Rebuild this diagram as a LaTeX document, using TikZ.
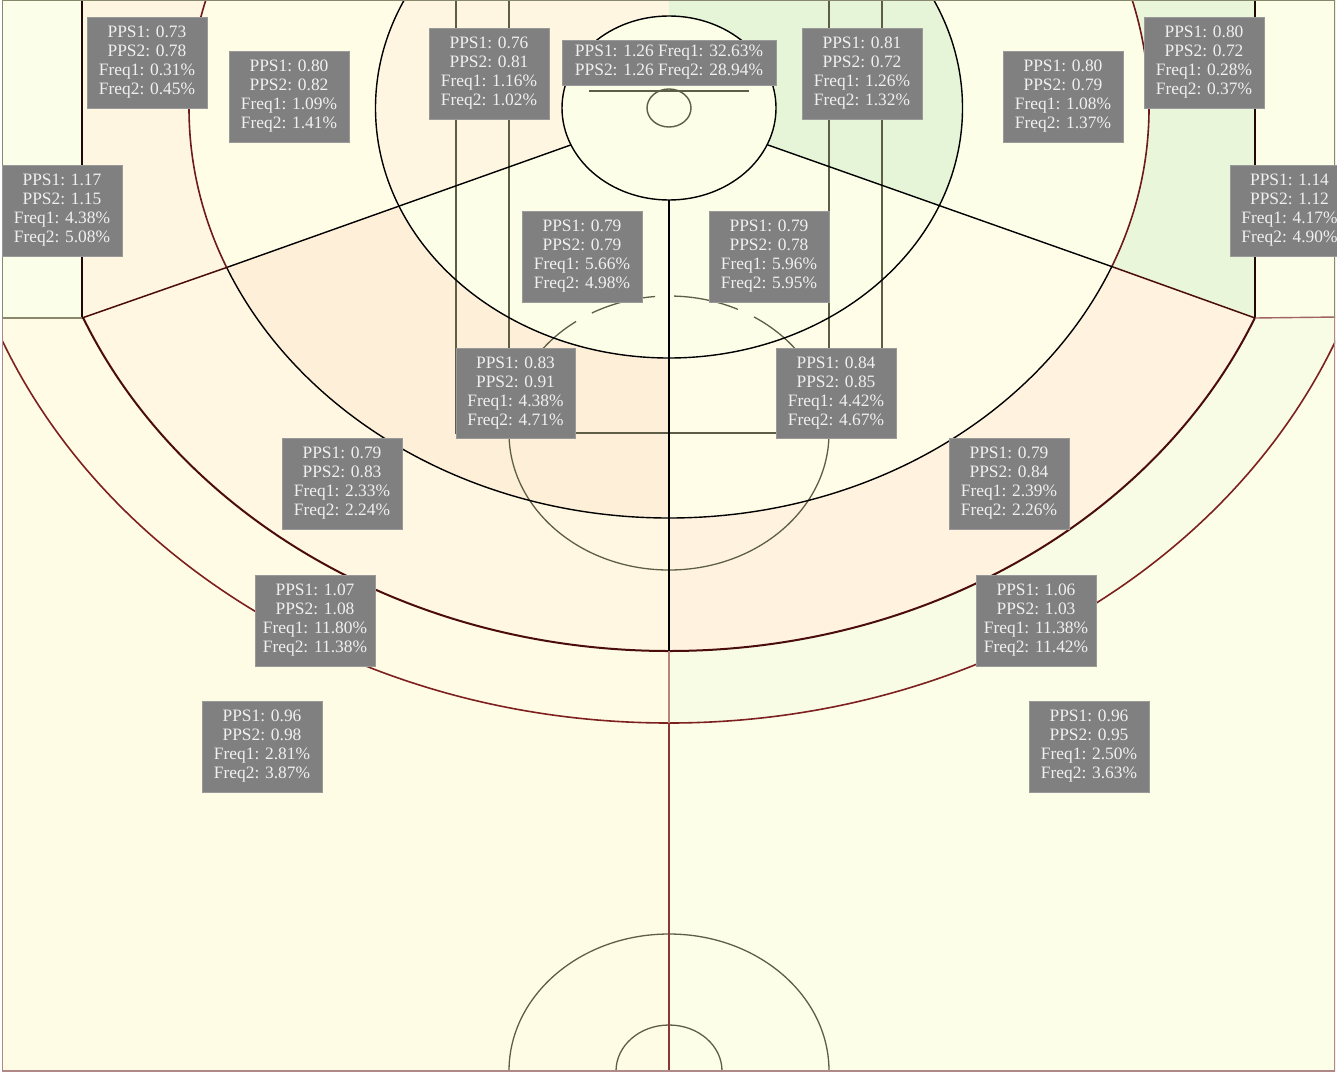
\documentclass[tikz,border=0pt]{standalone}
\usepackage{fontspec}
\setmainfont{Liberation Serif}
\definecolor{cornerL}{HTML}{FBFEE8}
\definecolor{upThreeL}{HTML}{FFF6E2}
\definecolor{upMidL}{HTML}{FFFDE6}
\definecolor{upInL}{HTML}{FFF6E1}
\definecolor{paintL}{HTML}{FCFEE7}
\definecolor{midL}{HTML}{FEEFD9}
\definecolor{bandL}{HTML}{FFF7E1}
\definecolor{arcL}{HTML}{FFFBE4}
\definecolor{farL}{HTML}{FFFCE6}
\definecolor{cornerR}{HTML}{FCFEE8}
\definecolor{upThreeR}{HTML}{EAF6DA}
\definecolor{upMidR}{HTML}{FCFEE7}
\definecolor{upInR}{HTML}{E6F4D8}
\definecolor{paintR}{HTML}{FCFEE7}
\definecolor{midR}{HTML}{FFFDE8}
\definecolor{bandR}{HTML}{FFF3DF}
\definecolor{arcR}{HTML}{F8FCE4}
\definecolor{farR}{HTML}{FCFEE8}
\definecolor{rimC}{HTML}{FCFEE7}
\definecolor{olive}{HTML}{5E5E46}
\definecolor{darkred}{HTML}{6E1A1A}
\definecolor{maroon}{HTML}{7D2020}
\definecolor{darkmix}{HTML}{4A0C0C}
\definecolor{paleframe}{HTML}{B08888}
\definecolor{greyframe}{HTML}{88886C}
\tikzset{
  statbox/.style={fill=black!50,draw=black!40,line width=0.5pt,text=white!94!black,
    minimum width=119.5,minimum height=90.5,inner sep=0pt,align=center,
    font=\fontsize{17.4}{19}\selectfont},
  widebox/.style={statbox,minimum width=213.5,minimum height=44.5},
  court/.style={line width=1.4pt,black},
  lane/.style={line width=1.4pt,olive},
  thinlane/.style={line width=1.3pt,olive}
}
\newcommand{\stat}[4]{PPS1: #1\\PPS2: #2\\Freq1: #3\%\\Freq2: #4\%}
\begin{document}
\begin{tikzpicture}[x=1pt,y=-1pt]
\useasboundingbox (0,0) rectangle (1337,1073);
\coordinate (hoop) at (669,108);
\coordinate (ftc) at (669,433);
\coordinate (base) at (669,1071);
\coordinate (cl) at (82,318);
\coordinate (cr) at (1255,318);
\coordinate (hub) at (669,110);
\begin{scope}
\clip (2,0) rectangle (1335,1071);
% left half fills
\begin{scope}
\clip (2,0) rectangle (669,1071);
\fill[farL] (0,0) rectangle (669,1073);
\fill[arcL] (hoop) ellipse [x radius=720,y radius=615];
\fill[cornerL] (0,0) rectangle (cl);
\begin{scope}
\clip (82,0) -- (669,0) -- (hub) -- (cl) -- cycle;
\fill[upThreeL] (0,0) rectangle (669,400);
\fill[upMidL] (hoop) ellipse [x radius=480,y radius=410];
\fill[upInL] (hoop) ellipse [x radius=293.5,y radius=250];
\end{scope}
\begin{scope}
\clip (cl) -- (hub) -- (669,1071) -- (2,1071) -- (2,318) -- cycle;
\fill[bandL] (hoop) ellipse [x radius=635,y radius=543];
\fill[midL] (hoop) ellipse [x radius=480,y radius=410];
\fill[paintL] (hoop) ellipse [x radius=293.5,y radius=250];
\end{scope}
\end{scope}
% right half fills
\begin{scope}
\clip (669,0) rectangle (1335,1071);
\fill[farR] (669,0) rectangle (1337,1073);
\fill[arcR] (hoop) ellipse [x radius=720,y radius=615];
\fill[cornerR] (cr) rectangle (1337,0);
\begin{scope}
\clip (1255,0) -- (669,0) -- (hub) -- (cr) -- cycle;
\fill[upThreeR] (669,0) rectangle (1337,400);
\fill[upMidR] (hoop) ellipse [x radius=480,y radius=410];
\fill[upInR] (hoop) ellipse [x radius=293.5,y radius=250];
\end{scope}
\begin{scope}
\clip (cr) -- (hub) -- (669,1071) -- (1335,1071) -- (1335,318) -- cycle;
\fill[bandR] (hoop) ellipse [x radius=635,y radius=543];
\fill[midR] (hoop) ellipse [x radius=480,y radius=410];
\fill[paintR] (hoop) ellipse [x radius=293.5,y radius=250];
\end{scope}
\end{scope}
% lane and free throw
\draw[lane] (456,0) -- (456,433) -- (882,433) -- (882,0);
\draw[lane] (509,0) -- (509,433);
\draw[lane] (829,0) -- (829,433);
\begin{scope}
\clip (400,433) rectangle (940,600);
\draw[thinlane] (ftc) ellipse [x radius=160,y radius=137];
\end{scope}
\draw[thinlane] plot[domain=88.2:64.5,samples=24] ({669+160*cos(\x)},{433-137*sin(\x)});
\draw[thinlane] plot[domain=57.9:30,samples=24] ({669+160*cos(\x)},{433-137*sin(\x)});
\draw[thinlane] plot[domain=95:118.8,samples=24] ({669+160*cos(\x)},{433-137*sin(\x)});
\draw[thinlane] plot[domain=125.5:150,samples=24] ({669+160*cos(\x)},{433-137*sin(\x)});
% half court circles
\draw[thinlane] (base) ellipse [x radius=160,y radius=137];
\draw[thinlane] (base) ellipse [x radius=53,y radius=46];
% arcs
\draw[maroon,line width=1.6pt] (hoop) ellipse [x radius=720,y radius=615];
\begin{scope}
\clip (cl) -- (hub) -- (cr) -- (1337,318) -- (1337,1073) -- (0,1073) -- (0,318) -- cycle;
\draw[darkmix,line width=2pt] (hoop) ellipse [x radius=635,y radius=543];
\draw[court] (hoop) ellipse [x radius=480,y radius=410];
\end{scope}
\begin{scope}
\clip (cl) -- (hub) -- (cr) -- (1337,318) -- (1337,0) -- (0,0) -- (0,318) -- cycle;
\draw[darkred,line width=1.6pt] (hoop) ellipse [x radius=480,y radius=410];
\end{scope}
\draw[court] (hoop) ellipse [x radius=293.5,y radius=250];
% corners and radials
\coordinate (lr) at (228,267);
\coordinate (rr) at (1113,267);
\draw[court] (lr) -- (hub) -- (rr);
\draw[darkmix,line width=1.5pt] (cl) -- (lr);
\draw[darkmix,line width=1.5pt] (cr) -- (rr);
\draw[black!70!darkred,line width=1.5pt] (82,0) -- (cl);
\draw[black!70!darkred,line width=1.5pt] (1255,0) -- (cr);
\draw[greyframe,line width=1.4pt] (2,318) -- (cl);
\draw[maroon!70,line width=1.4pt] (cr) -- (1337,317);
% centre line
\draw[court] (669,200) -- (669,651);
\draw[maroon!55!rimC,line width=1.5pt] (669,651) -- (669,723);
\draw[maroon!90,line width=1.6pt] (669,723) -- (669,1071);
% restricted area
\draw[court,fill=rimC] (hoop) ellipse [x radius=107,y radius=92];
\draw[lane] (589,91) -- (749,91);
\draw[lane] (hoop) ellipse [x radius=22,y radius=19];
% frame
\draw[greyframe,line width=1.2pt] (2,318) -- (2,0) -- (1335,0) -- (1335,318);
\draw[paleframe,line width=1.2pt] (2,318) -- (2,1071) -- (1335,1071) -- (1335,318);
\end{scope}
\begin{scope}
\clip (0,0) rectangle (1337,1073);
\node[statbox] (a1) at (147,62.5) {\stat{0.73}{0.78}{0.31}{0.45}};
\node[statbox] (a2) at (289,96.5) {\stat{0.80}{0.82}{1.09}{1.41}};
\node[statbox] (a3) at (489,73.5) {\stat{0.76}{0.81}{1.16}{1.02}};
\node[widebox] (a4) at (669,62.5) {PPS1: 1.26 Freq1: 32.63\%\\PPS2: 1.26 Freq2: 28.94\%};
\node[statbox] (a5) at (862,73.5) {\stat{0.81}{0.72}{1.26}{1.32}};
\node[statbox] (a6) at (1063,96.5) {\stat{0.80}{0.79}{1.08}{1.37}};
\node[statbox] (a7) at (1204,62.5) {\stat{0.80}{0.72}{0.28}{0.37}};
\node[statbox] (b1) at (62,210.5) {\stat{1.17}{1.15}{4.38}{5.08}};
\node[statbox] (b2) at (1289.5,210.5) {\stat{1.14}{1.12}{4.17}{4.90}};
\node[statbox] (c1) at (582,256.5) {\stat{0.79}{0.79}{5.66}{4.98}};
\node[statbox] (c2) at (769,256.5) {\stat{0.79}{0.78}{5.96}{5.95}};
\node[statbox] (d1) at (515.5,393) {\stat{0.83}{0.91}{4.38}{4.71}};
\node[statbox] (d2) at (836,393) {\stat{0.84}{0.85}{4.42}{4.67}};
\node[statbox] (e1) at (342,483.5) {\stat{0.79}{0.83}{2.33}{2.24}};
\node[statbox] (e2) at (1009,483.5) {\stat{0.79}{0.84}{2.39}{2.26}};
\node[statbox] (f1) at (315,620.5) {\stat{1.07}{1.08}{11.80}{11.38}};
\node[statbox] (f2) at (1036,620.5) {\stat{1.06}{1.03}{11.38}{11.42}};
\node[statbox] (g1) at (262,746.5) {\stat{0.96}{0.98}{2.81}{3.87}};
\node[statbox] (g2) at (1089,746.5) {\stat{0.96}{0.95}{2.50}{3.63}};
\end{scope}
\end{tikzpicture}
\end{document}
